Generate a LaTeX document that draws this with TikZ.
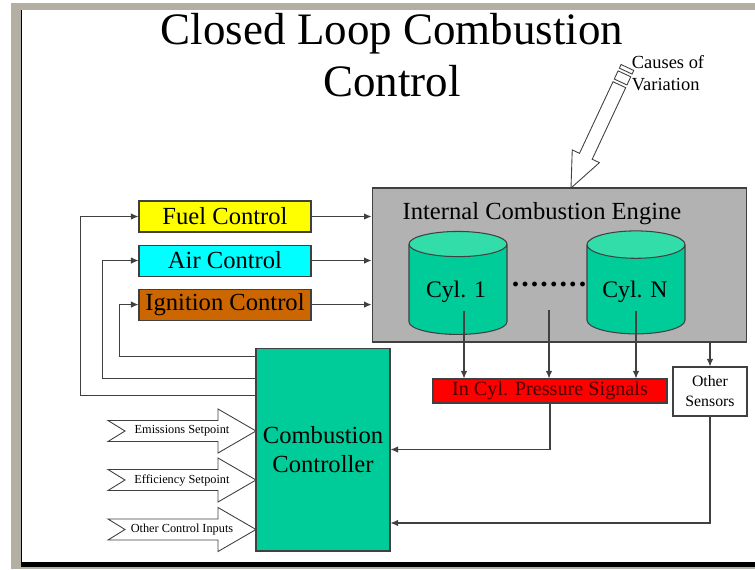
\documentclass[tikz,border=0pt]{standalone}
\usepackage{fontspec}
\setmainfont{Liberation Serif}
\usetikzlibrary{arrows.meta, positioning, shapes.geometric}
\definecolor{grisMarco}{HTML}{B3AFA3}
\definecolor{grisMotor}{HTML}{B2B2B2}
\definecolor{verdeControl}{HTML}{00CC99}
\definecolor{verdeTapa}{HTML}{33DDAA}
\definecolor{amarilloComb}{HTML}{FFFF00}
\definecolor{cianAire}{HTML}{00FFFF}
\definecolor{naranjaIgn}{HTML}{CC6600}
\definecolor{rojoPresion}{HTML}{FF0000}
\definecolor{textoRojo}{HTML}{4A0000}
\colorlet{colBorde}{black!75}
\tikzset{
  cajaBase/.style={
    draw=colBorde, line width=0.6pt, inner sep=0pt,
    align=center, text=black
  },
  cajaControl/.style={cajaBase, minimum width=3.44cm, minimum height=0.62cm,
    font=\fontsize{14}{16}\selectfont},
  cajaMotor/.style={cajaBase, fill=grisMotor, minimum width=7.5cm, minimum height=3.08cm},
  cajaControlador/.style={cajaBase, fill=verdeControl, minimum width=2.68cm,
    minimum height=4.06cm, font=\fontsize{14}{16.5}\selectfont},
  cajaPresion/.style={cajaBase, fill=rojoPresion, text=textoRojo, minimum width=4.68cm,
    minimum height=0.48cm, font=\fontsize{11.5}{13}\selectfont},
  cajaSensor/.style={cajaBase, fill=white, minimum width=1.48cm, minimum height=0.98cm,
    font=\fontsize{9}{11.4}\selectfont},
  cilindro/.style={cylinder, shape border rotate=90, draw=colBorde, line width=0.6pt,
    cylinder uses custom fill, cylinder body fill=verdeControl, cylinder end fill=verdeTapa,
    minimum width=1.96cm, minimum height=2.06cm, aspect=0.42, inner sep=0pt,
    font=\fontsize{13.5}{15}\selectfont},
  textoMotor/.style={font=\fontsize{14}{16}\selectfont, inner sep=0pt},
  textoCil/.style={font=\fontsize{13.5}{15}\selectfont, inner sep=0pt},
  textoEntrada/.style={font=\fontsize{7}{8}\selectfont, inner sep=0pt},
  flecha/.style={-{Latex[length=1.5mm, width=1.3mm]}, line width=0.6pt, colBorde},
  flechaBloque/.style={draw=colBorde, fill=white, line width=0.5pt},
}
\newcommand{\puntitos}{\textbf{.\kern1.2pt.\kern1.2pt.\kern1.2pt.\kern1.2pt.\kern1.2pt.\kern1.2pt.\kern1.2pt.}}

\begin{document}
\begin{tikzpicture}[x=0.02cm, y=-0.02cm, node distance=0.24cm]
    \useasboundingbox (0,0) rectangle (755,569);
    \fill[grisMarco] (11,3) rectangle (755,10);
    \fill[grisMarco] (11,3) rectangle (21,569);
    \fill[grisMarco] (21,566) rectangle (755,569);
    \fill[black] (21,562) rectangle (755,566.5);
    \draw[black, line width=0.8pt] (21.5,10) -- (21.5,562);

    \node[font=\fontsize{25.6}{29.5}\selectfont, align=center, inner sep=0pt, anchor=north]
      (titulo) at (392,13) {Closed Loop Combustion\\Control};

    \node[cajaMotor] (motor) at (559.5,265) {};
    \node[textoMotor] (motorTxt) at (542,214) {Internal Combustion Engine};
    \node[cilindro] (cilA) at (458,289.5) {\phantom{Cyl. 1}};
    \node[cilindro] (cilN) at (636,289.5) {\phantom{Cyl. N}};
    \node[textoCil] (cilAtxt) at (456,292) {Cyl. 1};
    \node[textoCil] (cilNtxt) at (635,292) {Cyl. N};
    \node[font=\fontsize{17}{18}\selectfont, inner sep=0pt] (puntos) at (549,284) {\puntitos};

    \node[cajaPresion] (presion) at (550,391) {In Cyl. Pressure Signals};
    \node[cajaSensor] (sensores) at (710,391.5) {Other\\Sensors};

    \node[cajaControl, fill=amarilloComb] (combustible) at (225,216.5) {Fuel Control};
    \node[cajaControl, fill=cianAire, below=of combustible] (aire) {Air Control};
    \node[cajaControl, fill=naranjaIgn, below=of aire] (ignicion) {Ignition Control};

    \node[cajaControlador] (controlador) at (323,449.5) {Combustion\\Controller};

    \foreach \c in {combustible, aire, ignicion}
      \draw[flecha] (\c.east) -- (\c.east -| motor.west);
    \draw[flecha] ([yshift=-0.18cm]controlador.north west) -| ([xshift=-0.38cm]ignicion.west) -- (ignicion.west);
    \draw[flecha] ([yshift=-0.62cm]controlador.north west) -| ([xshift=-0.72cm]aire.west) -- (aire.west);
    \draw[flecha] ([yshift=-0.96cm]controlador.north west) -| ([xshift=-1.16cm]combustible.west) -- (combustible.west);

    \draw[flecha] ([xshift=0.12cm, yshift=-0.43cm]cilA.center) -- ([xshift=0.12cm]cilA.center |- presion.north);
    \draw[flecha] ([yshift=-0.52cm]puntos.center) -- (puntos.center |- presion.north);
    \draw[flecha] ([yshift=-0.43cm]cilN.center) -- (cilN.center |- presion.north);
    \draw[flecha] (sensores.north |- motor.south) -- (sensores.north);
    \draw[flecha] (presion.south) |- (controlador.east);
    \draw[flecha] (sensores.south) |- ([yshift=-1.47cm]controlador.east);

    \foreach \yy/\txt/\nm in {431/Emissions Setpoint/emision, 480/Efficiency Setpoint/eficiencia,
        529.5/Other Control Inputs/otras} {
      \draw[flechaBloque] (256,\yy) -- ++(-38,-22) -- ++(0,11.5) -- ++(-110,0) -- ++(17,10.5)
        -- ++(-17,10.5) -- ++(110,0) -- ++(0,11.5) -- cycle;
      \node[textoEntrada] (\nm) at (182,\yy) {\txt};
    }

    \coordinate (punta) at (571,188);
    \begin{scope}[shift={(punta)}, x={(0.00848cm,0.01812cm)}, y={(-0.01812cm,0.00848cm)}]
      \draw[flechaBloque] (0,0) -- (35,15) -- (35,7) -- (114,7) -- (114,-7) -- (35,-7)
        -- (35,-15) -- cycle;
      \draw[flechaBloque] (117,-7) -- (126,-7) -- (126,7) -- (117,7) -- cycle;
      \draw[flechaBloque] (129,-7) -- (133,-7) -- (133,7) -- (129,7) -- cycle;
    \end{scope}
    \node[font=\fontsize{10.5}{12.5}\selectfont, align=left, inner sep=0pt]
      (causas) at (668,73) {Causes of\\Variation};
\end{tikzpicture}
\end{document}
